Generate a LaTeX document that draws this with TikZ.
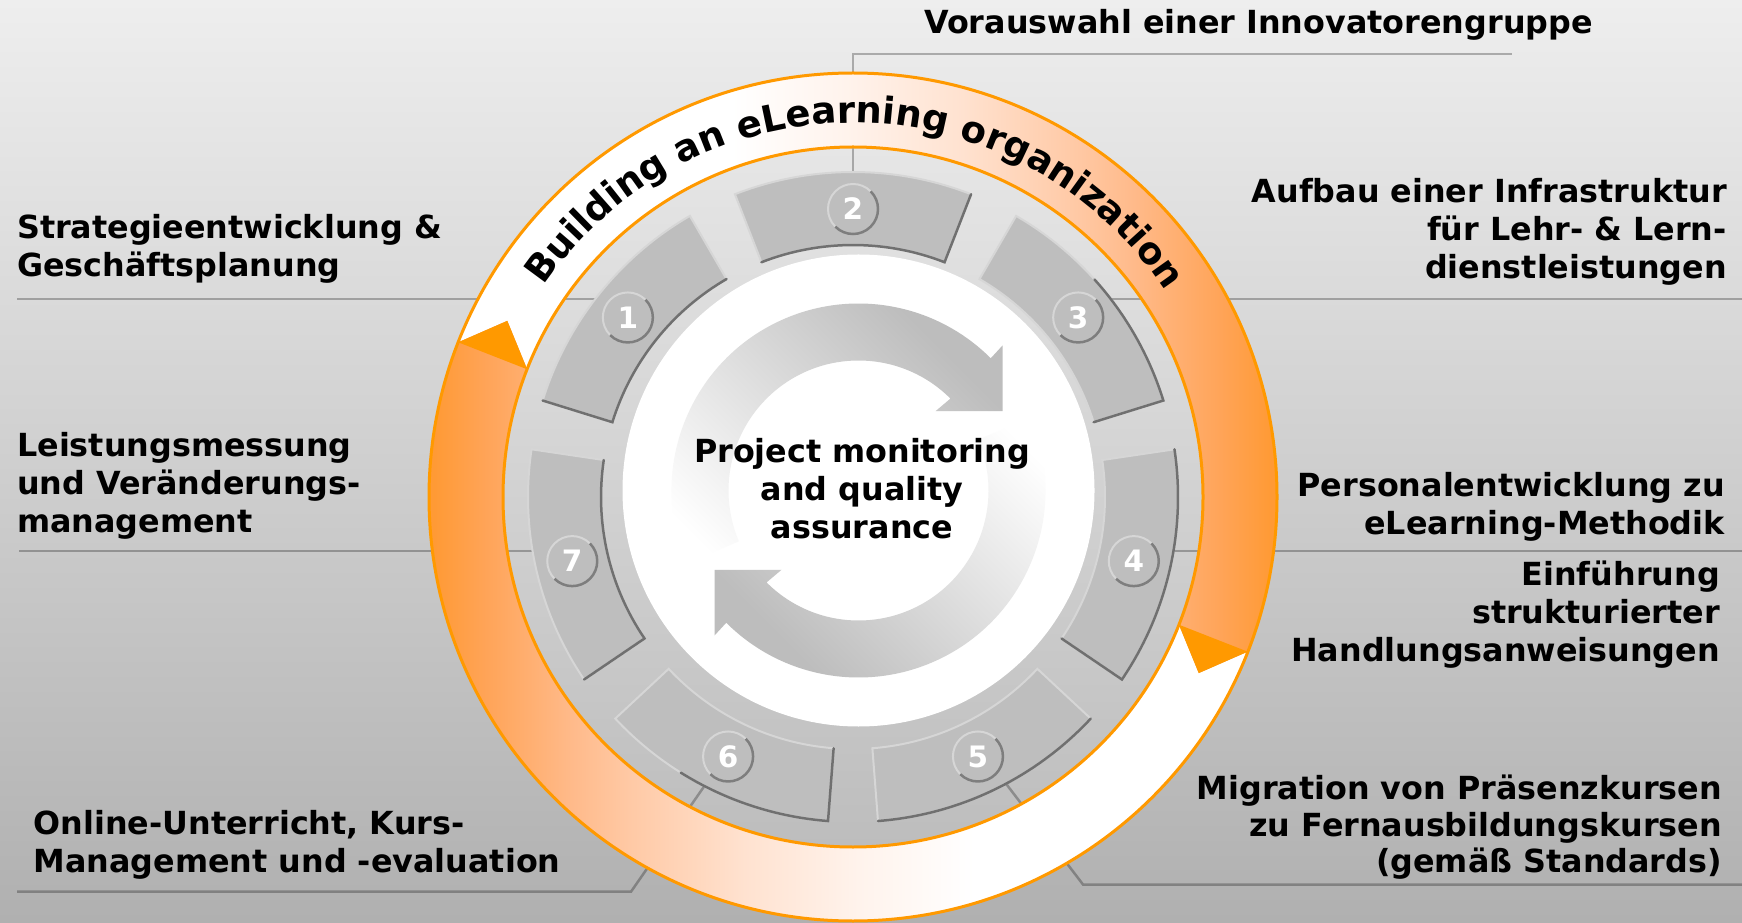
\documentclass[tikz,border=0pt]{standalone}
\usepackage{fontspec}
\setmainfont{DejaVu Sans}
\usetikzlibrary{decorations.text}

\definecolor{bgtop}{HTML}{EEEEEE}
\definecolor{bgbot}{HTML}{B0B0B0}
\definecolor{disktop}{HTML}{E6E6E6}
\definecolor{diskbot}{HTML}{BDBDBD}
\definecolor{ringor}{HTML}{FF9900}
\definecolor{oA}{HTML}{FF9A35}
\definecolor{oB}{HTML}{FFA458}
\definecolor{oC}{HTML}{FFBA8A}
\definecolor{oD}{HTML}{FFC9A5}
\definecolor{oE}{HTML}{FFE2D0}
\definecolor{oF}{HTML}{FFF3EC}
\definecolor{segfill}{HTML}{BEBEBE}
\definecolor{segdark}{HTML}{707070}
\definecolor{seglight}{HTML}{D6D6D6}
\definecolor{numdark}{HTML}{7E7E7E}
\definecolor{cgray}{HTML}{BDBDBD}

\pgfdeclarehorizontalshading{ringtop}{100bp}{color(0bp)=(white); color(42.8bp)=(white); color(49.6bp)=(oF); color(56.4bp)=(oE); color(63.1bp)=(oD); color(66.5bp)=(oC); color(71.6bp)=(oB); color(74.6bp)=(oA); color(100bp)=(oA)}
\pgfdeclarehorizontalshading{ringbot}{100bp}{color(0bp)=(oA); color(25.3bp)=(oA); color(28.4bp)=(oB); color(33.4bp)=(oC); color(36.8bp)=(oD); color(43.6bp)=(oE); color(50.3bp)=(oF); color(57.1bp)=(white); color(100bp)=(white)}
\pgfdeclarehorizontalshading{centshade}{100bp}{color(0bp)=(white); color(31.5bp)=(white); color(68.5bp)=(cgray); color(100bp)=(cgray)}

\newcommand\lblfont{\fontsize{31.8}{38}\selectfont\bfseries}
\newcommand\miglblfont{\fontsize{31.8}{36.4}\selectfont\bfseries}
\newcommand\ringfont{\fontsize{37}{37}\selectfont\bfseries}
\newcommand\numfont{\fontsize{29.5}{29.5}\selectfont\bfseries}

\begin{document}
\begin{tikzpicture}[x=1pt,y=1pt,
  conn/.style={draw=black, draw opacity=0.27, line width=2.5},
  lbl/.style={font=\lblfont, inner sep=0pt, text=black},
  lblL/.style={lbl, align=left, anchor=base west},
  lblR/.style={lbl, align=right, anchor=base east},
  segment/.style={fill=segfill, draw=seglight, line width=2},
  darkedge/.style={draw=segdark, line width=2.5, line cap=round},
  numc/.style={circle, fill=segfill, minimum size=50, inner sep=0pt, outer sep=0pt, text=white, font=\numfont},
  numlight/.style={draw=seglight, line width=2},
  numdk/.style={draw=numdark, line width=2.5}
]
% background
\shade[top color=bgtop, bottom color=bgbot] (0,0) rectangle (1742,922);
\useasboundingbox (0,0) rectangle (1742,922);

\coordinate (C) at (853,425);
\coordinate (C2) at (858.5,431.5);

% gray disk
\shade[top color=disktop, bottom color=diskbot] (C) circle[radius=350];

% connector lines
\coordinate (vorA) at (853,750);
\coordinate (vorB) at (853,868);
\coordinate (vorC) at (1512,868);
\coordinate (strA) at (17,623);
\coordinate (strB) at (595.3,623);
\coordinate (aufA) at (1110.7,623);
\coordinate (aufB) at (1742,623);
\coordinate (leiA) at (19,371);
\coordinate (leiB) at (532.5,371);
\coordinate (perA) at (1173.5,371);
\coordinate (perB) at (1742,371);
\coordinate (onlA) at (17,30.3);
\coordinate (onlB) at (631,30.3);
\coordinate (onlC) at (704.4,136);
\coordinate (migA) at (1742,37.5);
\coordinate (migB) at (1083,37.5);
\coordinate (migC) at (1006,138.3);
\draw[conn] (vorA) -- (vorB) -- (vorC);
\draw[conn] (strA) -- (strB);
\draw[conn] (aufA) -- (aufB);
\draw[conn] (leiA) -- (leiB);
\draw[conn] (perA) -- (perB);
\draw[conn] (onlA) -- (onlB) -- (onlC);
\draw[conn] (migA) -- (migB) -- (migC);

\begin{scope}[shift={(853,425)}]
  % upper arrow of the ring
  \begin{scope}
    \clip (158.6:424) arc[start angle=158.6, end angle=-21.4, radius=424] -- (-27:388) -- (-21.4:350) arc[start angle=-21.4, end angle=158.6, radius=350] -- (153:388) -- cycle;
    \shade[shading=ringtop] (-424,-430) rectangle (425,430);
  \end{scope}
  % lower arrow of the ring
  \begin{scope}
    \clip (-21.4:424) arc[start angle=-21.4, end angle=-201.4, radius=424] -- (-207:388) -- (-201.4:350) arc[start angle=-201.4, end angle=-21.4, radius=350] -- (-27:388) -- cycle;
    \shade[shading=ringbot] (-424,-430) rectangle (425,430);
  \end{scope}
  \fill[ringor] (158.6:424) -- (153:388) -- (158.6:350) -- cycle;
  \fill[ringor] (-21.4:424) -- (-27:388) -- (-21.4:350) -- cycle;
  \draw[ringor, line width=3] (0,0) circle[radius=424];
  \draw[ringor, line width=3] (0,0) circle[radius=350];

  % ring text
  \path[decorate, decoration={text along path, text align=center, text={|\ringfont|Building an eLearning organization}}] (150:374) arc[start angle=150, end angle=29, radius=374];

  % segments
  \foreach \a in {141.43, 90, 38.57, -12.86, -64.29, -115.71, -167.14} {
    \pgfmathsetmacro\sa{\a-21.3}
    \pgfmathsetmacro\sb{\a+21.3}
    \path[segment] (\sa:325) arc[start angle=\sa, end angle=\sb, radius=325] -- (\sb:252) arc[start angle=\sb, end angle=\sa, radius=252] -- cycle;
  }
  \draw[darkedge] (162.73:325) -- (162.73:252) arc[start angle=162.73, end angle=120.13, radius=252];
  \draw[darkedge] (111.3:252) arc[start angle=111.3, end angle=68.7, radius=252] -- (68.7:325);
  \draw[darkedge] (42:325) arc[start angle=42, end angle=17.27, radius=325] -- (17.27:252);
  \draw[darkedge] (8.44:325) arc[start angle=8.44, end angle=-34.16, radius=325] -- (-34.16:252);
  \draw[darkedge] (-42.99:325) arc[start angle=-42.99, end angle=-85.59, radius=325];
  \draw[darkedge] (-122:325) arc[start angle=-122, end angle=-94.41, radius=325] -- (-94.41:252);
  \draw[darkedge] (171.56:252) arc[start angle=171.56, end angle=214.16, radius=252] -- (214.16:325);

  % numbers
  \foreach \k/\a in {1/141.43, 2/90, 3/38.57, 4/-12.86, 5/-64.29, 6/-115.71, 7/-167.14} {
    \node[numc] (n\k) at (\a:288) {\k};
    \draw[numlight] (n\k.45) arc[start angle=45, end angle=225, radius=25];
    \draw[numdk] (n\k.225) arc[start angle=225, end angle=405, radius=25];
  }
\end{scope}

% white disk
\fill[white] (C2) circle[radius=236];

% central circular arrows
\begin{scope}[shift={(858.5,431.5)}]
  \begin{scope}
    \clip (203:187) arc[start angle=203, end angle=45, radius=187] -- (144,145) -- (144,79.3) -- (77,79.3) -- (45:130) arc[start angle=45, end angle=203, radius=130] -- cycle;
    \shade[shading=centshade, shading angle=45] (-206.5,-206.5) rectangle (213.5,213.5);
  \end{scope}
  \begin{scope}
    \clip (23:187) arc[start angle=23, end angle=-135, radius=187] -- (-144,-145) -- (-144,-79.3) -- (-77,-79.3) -- (-135:130) arc[start angle=-135, end angle=23, radius=130] -- cycle;
    \shade[shading=centshade, shading angle=225] (-213.5,-213.5) rectangle (206.5,206.5);
  \end{scope}
\end{scope}

% texts (base anchor of a multi-line node = baseline of its last line)
\node[lbl, align=center, anchor=base] (center) at (862,383.7) {Project monitoring\\and quality\\assurance};
\node[lblL] (vor) at (924,888) {Vorauswahl einer Innovatorengruppe};
\node[lblL] (str) at (17,645) {Strategieentwicklung \&\\Geschäftsplanung};
\node[lblR] (auf) at (1727,643) {Aufbau einer Infrastruktur\\für Lehr- \& Lern-\\dienstleistungen};
\node[lblL] (lei) at (17,390) {Leistungsmessung\\und Veränderungs-\\management};
\node[lblR] (per) at (1725,387.7) {Personalentwicklung zu\\eLearning-Methodik};
\node[lblR] (ein) at (1720,260.3) {Einführung\\strukturierter\\Handlungsanweisungen};
\node[lblL] (onl) at (33.5,49.3) {Online-Unterricht, Kurs-\\Management und -evaluation};
\node[lblR, font=\miglblfont] (mig) at (1722,49.3) {Migration von Präsenzkursen\\zu Fernausbildungskursen\\(gemäß Standards)};
\end{tikzpicture}
\end{document}
